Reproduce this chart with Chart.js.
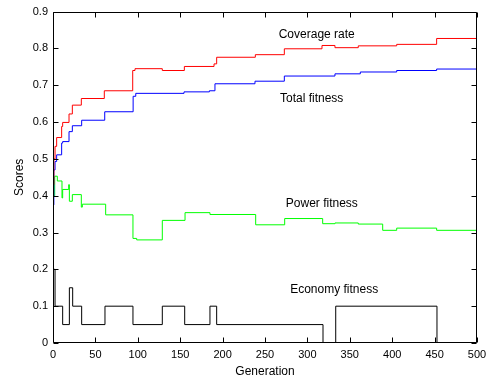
<!DOCTYPE html>
<html>
<head>
<meta charset="utf-8">
<script src="https://cdn.jsdelivr.net/npm/chart.js@4.4.0/dist/chart.umd.min.js"></script>
<style>
  html, body { margin: 0; padding: 0; background: #fff; }
  canvas { display: block; }
</style>
</head>
<body>
<canvas id="scoreChart" width="493" height="383"></canvas>
<script>
// Coverage rate (red) - generation where the step starts, and its value
const coverageGen = [0, 1, 2.4, 4.3, 10.2, 11.4, 18.9, 22.8, 33.4, 60.5, 94, 96.7, 128.9, 154.9, 189.9, 193, 238.6, 272.8, 317.2, 332.5, 360, 405.3, 452.4, 500];
const coverageVal = [0.43, 0.50, 0.534, 0.558, 0.588, 0.599, 0.622, 0.646, 0.664, 0.685, 0.740, 0.745, 0.740, 0.751, 0.758, 0.776, 0.783, 0.799, 0.808, 0.802, 0.807, 0.811, 0.827, 0.827];

// Total fitness (blue)
const totalGen = [0, 1, 2.4, 4.3, 10.2, 11.4, 18.9, 22.8, 33.8, 61, 94.5, 97.6, 154.5, 184.4, 191, 238.2, 272.8, 332.5, 362.4, 405.3, 452.4, 500];
const totalVal = [0.375, 0.47, 0.493, 0.511, 0.543, 0.547, 0.574, 0.590, 0.605, 0.628, 0.670, 0.678, 0.682, 0.685, 0.704, 0.711, 0.725, 0.731, 0.736, 0.740, 0.744, 0.744];

// Power fitness (green)
const powerGen = [0, 2, 5.1, 10.6, 11.4, 18.5, 19.3, 22.8, 33.4, 34.6, 62.1, 94.3, 98.7, 128.9, 155.7, 185.1, 239, 273.2, 318, 332.5, 360, 388.8, 405.3, 452.4, 500];
const powerVal = [0.40, 0.453, 0.440, 0.394, 0.417, 0.430, 0.385, 0.403, 0.369, 0.377, 0.348, 0.284, 0.280, 0.333, 0.354, 0.349, 0.321, 0.338, 0.324, 0.326, 0.323, 0.306, 0.312, 0.306, 0.306];

// Economy fitness (black)
const economyGen = [0, 2.4, 11.4, 19.3, 23.2, 33.8, 61.3, 94.3, 128.9, 155.3, 185.1, 193, 318.4, 333.4, 452.8, 500];
const economyVal = [0.2, 0.1, 0.05, 0.15, 0.1, 0.05, 0.1, 0.05, 0.1, 0.05, 0.1, 0.05, 0, 0.1, 0, 0];

const seriesNames = ["Coverage rate", "Total fitness", "Power fitness", "Economy fitness"];

function toPoints(gens, vals) {
  return gens.map((g, i) => ({ x: g, y: vals[i] }));
}

Chart.defaults.font.family = "'Liberation Sans', Arial, sans-serif";
Chart.defaults.color = "#000";

// text labels next to each curve, placed in data units
const curveLabels = [
  { text: seriesNames[0], x: 311, y: 0.838 },
  { text: seriesNames[1], x: 305, y: 0.663 },
  { text: seriesNames[2], x: 317, y: 0.377 },
  { text: seriesNames[3], x: 331.6, y: 0.146 },
];

// matlab style box with inward ticks + curve labels
const framePlugin = {
  id: "frame",
  afterDatasetsDraw(chart) {
    const { ctx, chartArea: a, scales: { x, y } } = chart;
    const L = Math.round(a.left) + 0.5, R = Math.round(a.right) - 0.5;
    const T = Math.round(a.top) + 0.5, B = Math.round(a.bottom) - 0.5;
    const tl = 5;
    ctx.save();
    ctx.strokeStyle = "#000";
    ctx.lineWidth = 1;
    ctx.beginPath();
    ctx.rect(L, T, R - L, B - T);
    x.ticks.forEach(t => {
      const px = Math.round(x.getPixelForValue(t.value)) + 0.5;
      ctx.moveTo(px, B); ctx.lineTo(px, B - tl);
      ctx.moveTo(px, T); ctx.lineTo(px, T + tl);
    });
    y.ticks.forEach(t => {
      const py = Math.round(y.getPixelForValue(t.value)) + 0.5;
      ctx.moveTo(L, py); ctx.lineTo(L + tl, py);
      ctx.moveTo(R, py); ctx.lineTo(R - tl, py);
    });
    ctx.stroke();

    ctx.fillStyle = "#000";
    ctx.font = "12px 'Liberation Sans', Arial, sans-serif";
    ctx.textAlign = "center";
    ctx.textBaseline = "middle";
    curveLabels.forEach(l => {
      ctx.fillText(l.text, x.getPixelForValue(l.x), y.getPixelForValue(l.y));
    });
    ctx.restore();
  }
};

function lineSet(label, gens, vals, color) {
  return {
    label: label,
    data: toPoints(gens, vals),
    borderColor: color,
    borderWidth: 1,
    pointRadius: 0,
    stepped: true,
    fill: false,
  };
}

const ctx = document.getElementById("scoreChart").getContext("2d");
new Chart(ctx, {
  type: "line",
  data: {
    datasets: [
      lineSet(seriesNames[0], coverageGen, coverageVal, "#ff0000"),
      lineSet(seriesNames[1], totalGen, totalVal, "#0000ff"),
      lineSet(seriesNames[2], powerGen, powerVal, "#00ff00"),
      lineSet(seriesNames[3], economyGen, economyVal, "#000000"),
    ],
  },
  options: {
    responsive: false,
    animation: false,
    layout: { padding: { left: 0, right: 16, top: 9, bottom: 0 } },
    plugins: {
      legend: { display: false },
      tooltip: { enabled: false },
    },
    scales: {
      x: {
        type: "linear",
        min: 0,
        max: 500,
        grid: { display: false, drawTicks: false },
        border: { display: false },
        ticks: { stepSize: 50, padding: 5, maxRotation: 0, font: { size: 11 } },
        title: { display: true, text: "Generation", font: { size: 12 }, padding: { top: 0, bottom: 4 } },
        afterFit: s => { s.height = 40; },
      },
      y: {
        min: 0,
        max: 0.9,
        grid: { display: false, drawTicks: false },
        border: { display: false },
        ticks: {
          stepSize: 0.1,
          padding: 5,
          font: { size: 11 },
          callback: v => (Math.abs(v) < 1e-9 ? "0" : v.toFixed(1)),
        },
        title: { display: true, text: "Scores", font: { size: 12 }, padding: { top: 12, bottom: 0 } },
        afterFit: s => { s.width = 53; },
      },
    },
  },
  plugins: [framePlugin],
});
</script>
</body>
</html>
